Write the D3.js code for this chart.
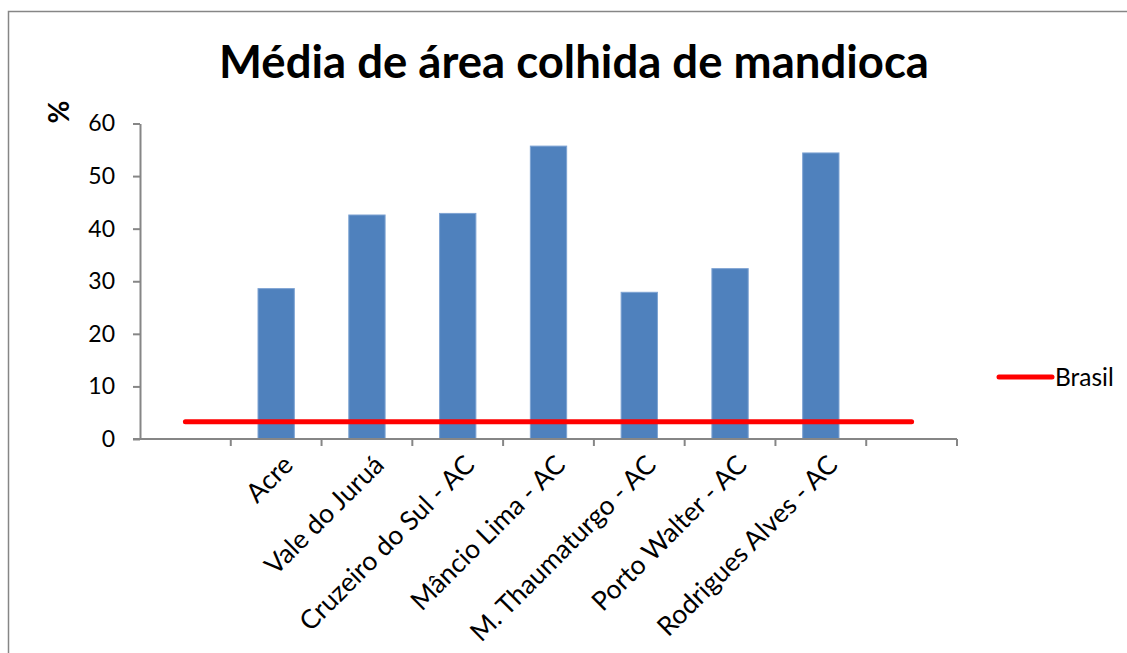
<!DOCTYPE html>
<html lang="pt">
<head>
<meta charset="utf-8">
<title>Média de área colhida de mandioca</title>
<script src="https://cdn.jsdelivr.net/npm/d3@7"></script>
<style>
  body { margin: 0; background: #fff; }
  svg text { font-family: Lato, "Open Sans", sans-serif; fill: #000; }
  .axis path, .axis line { stroke: #868686; stroke-width: 2; }
</style>
</head>
<body>
<svg width="1127" height="653"></svg>
<script>
// categories (first and last slots are empty in the original chart)
var categories = ["", "Acre", "Vale do Juruá", "Cruzeiro do Sul - AC", "Mâncio Lima - AC",
                  "M. Thaumaturgo - AC", "Porto Walter - AC", "Rodrigues Alves - AC", " "];
var areaValues = [null, 28.6, 42.6, 42.9, 55.7, 27.9, 32.4, 54.4, null];
var brasilValues = [3.3, 3.3, 3.3, 3.3, 3.3, 3.3, 3.3, 3.3, 3.3];
var yTicks = [0, 10, 20, 30, 40, 50, 60];

var svg = d3.select("svg");

// frame (only top and left edges show)
svg.append("path")
    .attr("d", "M8.5,653V11.5H1127")
    .attr("fill", "none")
    .attr("stroke", "#868686")
    .attr("stroke-width", 1.5);

var x = d3.scaleBand()
    .domain(categories)
    .range([140, 957]);

var y = d3.scaleLinear()
    .domain([0, 60])
    .range([439, 123.5]);

// title
svg.append("text")
    .attr("x", 574)
    .attr("y", 78)
    .attr("text-anchor", "middle")
    .attr("font-weight", "bold")
    .attr("font-size", 45.5)
    .text("Média de área colhida de mandioca");

// y axis label
svg.append("text")
    .attr("transform", "translate(69,112) rotate(-90)")
    .attr("text-anchor", "middle")
    .attr("font-weight", "bold")
    .attr("font-size", 28)
    .text("%");

// bars
svg.append("g")
  .selectAll("rect")
  .data(areaValues.map(function(v, i) { return {c: categories[i], v: v}; })
          .filter(function(d) { return d.v != null; }))
  .enter().append("rect")
    .attr("x", function(d) { return x(d.c) + x.bandwidth() * 0.3; })
    .attr("width", x.bandwidth() * 0.4)
    .attr("y", function(d) { return y(d.v); })
    .attr("height", function(d) { return y(0) - y(d.v); })
    .attr("fill", "#4f81bd")
    .attr("stroke", "#7ea3d3")
    .attr("stroke-width", 1);

// y axis
var yAxis = svg.append("g")
    .attr("class", "axis")
    .attr("transform", "translate(140,0)")
    .call(d3.axisLeft(y).tickValues(yTicks).tickSize(7).tickSizeOuter(0).tickPadding(18));
yAxis.selectAll("text").attr("font-size", 23).attr("fill", "#000");

// x axis: ticks at slot boundaries
var xAxis = svg.append("g")
    .attr("class", "axis");
xAxis.append("line")
    .attr("x1", x.range()[0] - 7).attr("x2", x.range()[1])
    .attr("y1", y(0)).attr("y2", y(0));
xAxis.selectAll("line.tick")
  .data(categories.slice(1).concat(["end"]))
  .enter().append("line")
    .attr("class", "tick")
    .attr("x1", function(d, i) { return x.range()[0] + (i + 1) * x.step(); })
    .attr("x2", function(d, i) { return x.range()[0] + (i + 1) * x.step(); })
    .attr("y1", y(0)).attr("y2", y(0) + 7);

svg.append("g")
  .selectAll("text")
  .data(categories)
  .enter().append("text")
    .attr("transform", function(d) {
      return "translate(" + (x(d) + x.bandwidth() / 2 + 12) + "," + (y(0) + 21) + ") rotate(-45)";
    })
    .attr("text-anchor", "end")
    .attr("dy", "0.35em")
    .attr("font-size", 26.5)
    .text(function(d) { return d; });

// Brasil line
var line = d3.line()
    .x(function(d, i) { return x(categories[i]) + x.bandwidth() / 2; })
    .y(function(d) { return y(d); });

svg.append("path")
    .datum(brasilValues)
    .attr("d", line)
    .attr("fill", "none")
    .attr("stroke", "#ff0000")
    .attr("stroke-width", 5)
    .attr("stroke-linecap", "round");

// legend
var legend = svg.append("g").attr("transform", "translate(999,377)");
legend.append("line")
    .attr("x1", 0).attr("x2", 53)
    .attr("stroke", "#ff0000")
    .attr("stroke-width", 5)
    .attr("stroke-linecap", "round");
legend.append("text")
    .attr("x", 56)
    .attr("dy", "0.35em")
    .attr("font-size", 24.5)
    .text("Brasil");
</script>
</body>
</html>
